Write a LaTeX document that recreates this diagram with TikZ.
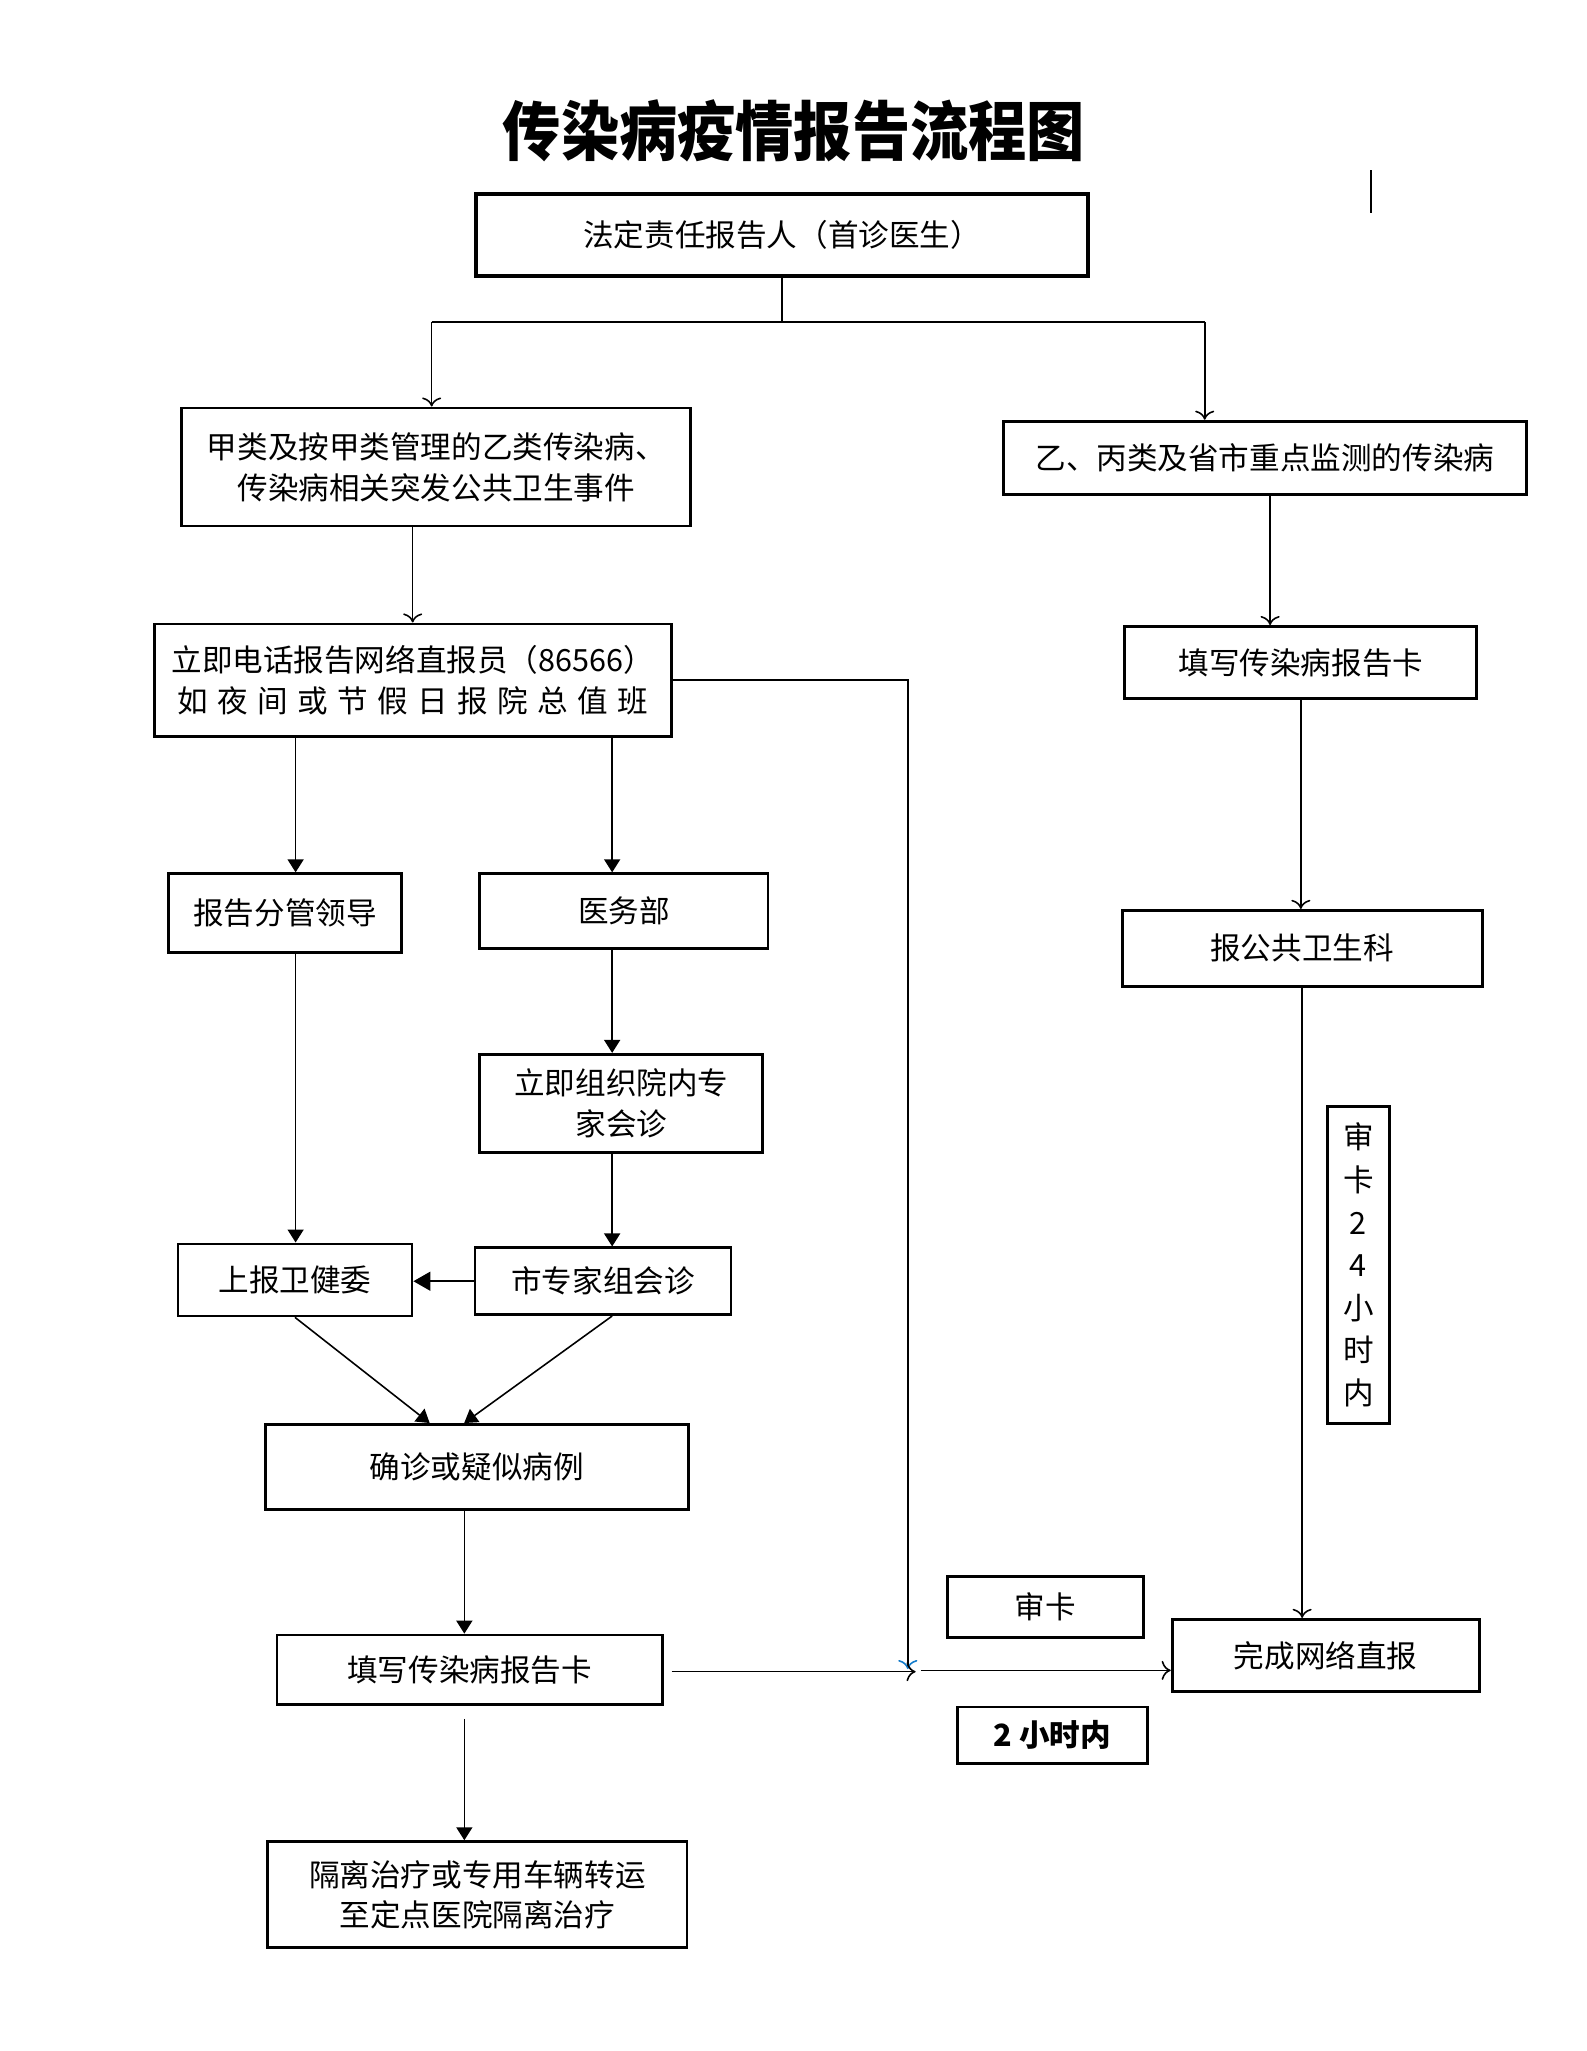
\documentclass[tikz,border=0pt]{standalone}
\usepackage{fontspec}
\setmainfont{Noto Sans CJK SC}
\usetikzlibrary{arrows.meta}
\begin{document}
\begin{tikzpicture}[x=0.013083cm,y=-0.013083cm,
    box/.style={draw,line width=0.8pt,inner sep=0pt,align=center,
      font=\fontsize{8.7pt}{11.6pt}\selectfont},
    link/.style={line width=0.45pt,-To},
    flow/.style={line width=0.45pt,-{Triangle[length=0.13cm,width=0.16cm]}}]
  \useasboundingbox (0,0) rectangle (1213,1568);
  \node[font=\fontsize{18.4pt}{22pt}\selectfont\bfseries] (title) at (607,100) {\scalebox{0.9}[1]{传染病疫情报告流程图}};
  \draw[line width=0.5pt] (1048,130) -- (1048,163);
  \draw
    (598,179.5) node[box,line width=1.1pt,minimum width=6.12cm,minimum height=0.824cm] (reporter) {法定责任报告人（首诊医生）}
    (333.5,357) node[box,minimum width=5.09cm,minimum height=1.18cm] (classA) {甲类及按甲类管理的乙类传染病、\\传染病相关突发公共卫生事件}
    (967,350) node[box,minimum width=5.23cm,minimum height=0.733cm] (classB) {乙、丙类及省市重点监测的传染病}
    (315.5,520) node[box,minimum width=5.17cm,minimum height=1.125cm] (phone) {立即电话报告网络直报员（86566）\\\makebox[134pt][s]{如 夜 间 或 节 假 日 报 院 总 值 班}}
    (994.5,506.5) node[box,minimum width=3.52cm,minimum height=0.72cm] (cardR) {填写传染病报告卡}
    (995.5,725) node[box,minimum width=3.6cm,minimum height=0.76cm] (pubh) {报公共卫生科}
    (1013.5,1265.5) node[box,minimum width=3.07cm,minimum height=0.72cm] (online) {完成网络直报}
    (1038.5,967) node[box,minimum width=0.615cm,minimum height=3.17cm,font=\fontsize{8.7pt}{12.1pt}\selectfont] (audit24) {审\\卡\\2\\4\\小\\时\\内}
    (799,1228.5) node[box,minimum width=1.96cm,minimum height=0.615cm] (audit) {审卡}
    (804.5,1326.5) node[box,minimum width=1.9cm,minimum height=0.563cm] (hrs) {\bfseries 2 小时内}
    (218,698) node[box,minimum width=2.33cm,minimum height=0.785cm] (leader) {报告分管领导}
    (477,696.5) node[box,minimum width=2.88cm,minimum height=0.746cm] (medic) {医务部}
    (225.5,978.5) node[box,minimum width=2.34cm,minimum height=0.72cm] (wjw) {上报卫健委}
    (475,843.5) node[box,minimum width=2.83cm,minimum height=0.98cm] (expert) {立即组织院内专\\家会诊}
    (461,979.5) node[box,minimum width=2.56cm,minimum height=0.667cm] (cityexp) {市专家组会诊}
    (364.5,1121.5) node[box,minimum width=4.23cm,minimum height=0.85cm] (diag) {确诊或疑似病例}
    (359,1276.5) node[box,minimum width=3.85cm,minimum height=0.693cm] (cardL) {填写传染病报告卡}
    (365,1448.5) node[box,minimum width=4.19cm,minimum height=1.06cm] (isolate) {隔离治疗或专用车辆转运\\至定点医院隔离治疗};
  \coordinate (split) at (598,246);
  \coordinate (lft) at (330,246);
  \coordinate (rgt) at (921,246);
  \coordinate (lx) at (226,0);
  \coordinate (mx) at (468,0);
  \coordinate (qx) at (355,0);
  \coordinate (cx) at (971,0);
  \coordinate (jt) at (694,1276);
  \coordinate (jn) at (700,1278);
  \coordinate (jo) at (704,1277);
  \begin{scope}[line width=0.45pt]
    \draw (reporter.south) to (split);
    \draw (lft) to (rgt);
    \draw[link] (lft) to (lft |- classA.north);
    \draw[link] (rgt) to (rgt |- classB.north);
    \draw[link] (classA.south -| phone.north) to (phone.north);
    \draw[link] (classB.south -| cx) to (cardR.north -| cx);
    \draw[link] (cardR.south) to (cardR.south |- pubh.north);
    \draw[link] (pubh.south) to (pubh.south |- online.north);
    \draw[flow] (phone.south -| lx) to (leader.north -| lx);
    \draw[flow] (phone.south -| mx) to (medic.north -| mx);
    \draw[flow] (leader.south -| lx) to (wjw.north -| lx);
    \draw[flow] (medic.south -| mx) to (expert.north -| mx);
    \draw[flow] (expert.south -| mx) to (cityexp.north -| mx);
    \draw[line width=0.45pt,-{Triangle[length=0.17cm,width=0.19cm]}] (cityexp.west) to (cityexp.west -| wjw.east);
    \draw[flow] (wjw.south) to (diag.137);
    \draw[flow] (cityexp.south -| mx) to (diag.106);
    \draw[flow] (diag.south -| qx) to (cardL.north -| qx);
    \draw[flow,shorten <=0.13cm] (cardL.south -| qx) to (isolate.north -| qx);
    \draw[-{To[color=cyan!60!blue]}] (phone.east) -| (jt);
    \draw[link,shorten <=0.08cm] (cardL.east |- jn) to (jn);
    \draw[link] (jo) to (online.west |- jo);
  \end{scope}
\end{tikzpicture}
\end{document}
